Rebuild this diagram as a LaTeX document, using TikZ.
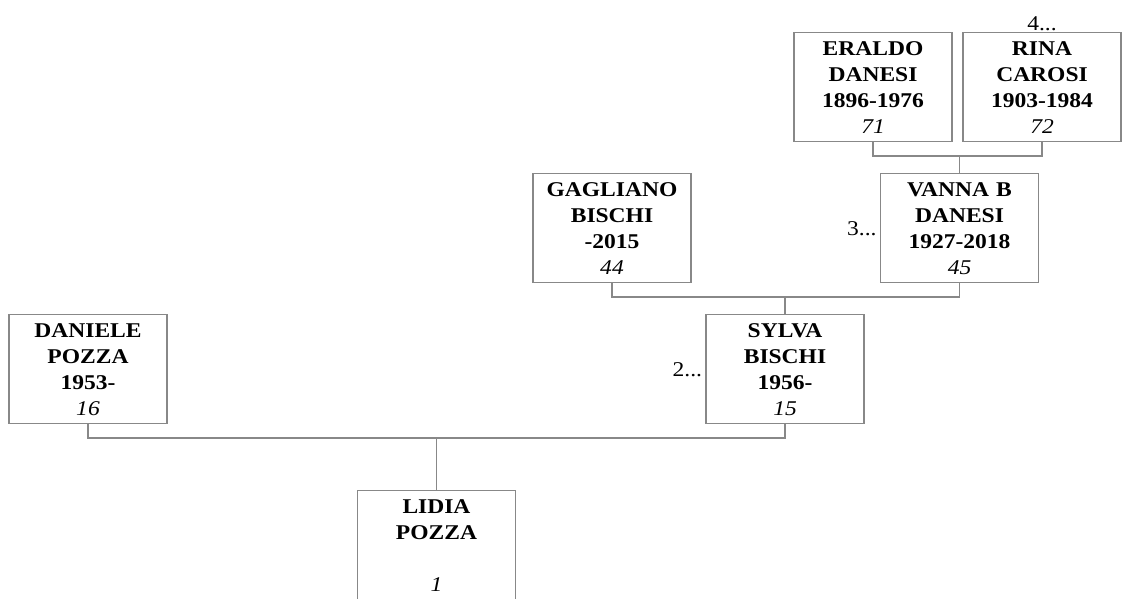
\documentclass[tikz,border=0pt]{standalone}
\usepackage{fontspec}
\setmainfont{Liberation Serif}[FakeStretch=1.12]
\usepackage{xcolor}
\usetikzlibrary{positioning}
\definecolor{famline}{RGB}{136,136,136}

\begin{document}
\begin{tikzpicture}[x=1pt, y=-1pt]
    \tikzstyle{person} = [rectangle, draw=famline, line width=1.4pt, fill=white, minimum width=158pt, minimum height=109pt, text width=150pt, align=center, anchor=north, inner sep=0pt, font=\fontsize{21}{26}\selectfont]
    \tikzstyle{more} = [font=\fontsize{21}{26}\selectfont, inner sep=1pt]
    \tikzstyle{link} = [draw=famline, line width=1.4pt]

    \useasboundingbox (0,0) rectangle (1124,599);
    \clip (0,0) rectangle (1124,598);

    \node (eraldo) [person] at (873,32) {\textbf{ERALDO}\\\textbf{DANESI}\\\textbf{1896-1976}\\\textit{71}};
    \node (rina) [person] at (1042,32) {\textbf{RINA}\\\textbf{CAROSI}\\\textbf{1903-1984}\\\textit{72}};
    \node (vanna) [person] at (959.5,173) {\textbf{VANNA B}\\\textbf{DANESI}\\\textbf{1927-2018}\\\textit{45}};
    \node (gagliano) [person] at (612,173) {\textbf{GAGLIANO}\\\textbf{BISCHI}\\\textbf{-2015}\\\textit{44}};
    \node (sylva) [person] at (785,314) {\textbf{SYLVA}\\\textbf{BISCHI}\\\textbf{1956-}\\\textit{15}};
    \node (daniele) [person] at (88,314) {\textbf{DANIELE}\\\textbf{POZZA}\\\textbf{1953-}\\\textit{16}};
    \node (lidia) [person] at (436.5,490) {\textbf{LIDIA}\\\textbf{POZZA}\\~\\\textit{1}};

    \node (more4) [more, above=0pt of rina] {4...};
    \node (more3) [more, left=2pt of vanna] {3...};
    \node (more2) [more, left=2pt of sylva] {2...};

    \coordinate (bar3) at (959.5,156);
    \coordinate (bar2) at (785,297);
    \coordinate (bar1) at (436.5,438);

    \draw [link] (eraldo.south) |- (bar3) -| (rina.south);
    \draw [link] (bar3) -- (vanna.north);
    \draw [link] (gagliano.south) |- (bar2) -| (vanna.south);
    \draw [link] (bar2) -- (sylva.north);
    \draw [link] (daniele.south) |- (bar1) -| (sylva.south);
    \draw [link] (bar1) -- (lidia.north);
\end{tikzpicture}
\end{document}
